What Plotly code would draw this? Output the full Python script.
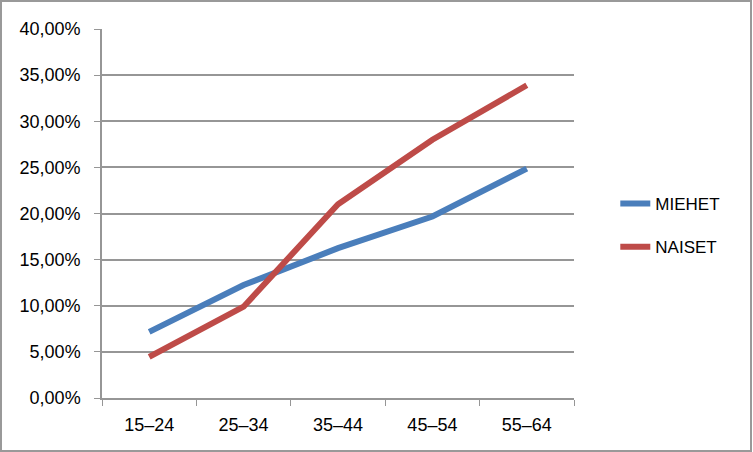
import plotly.graph_objects as go

categories = ["15–24", "25–34", "35–44", "45–54", "55–64"]
miehet = [0.0717, 0.1225, 0.1624, 0.1967, 0.2486]
naiset = [0.0446, 0.0990, 0.2100, 0.2800, 0.3390]
y_ticks = [0, 0.05, 0.10, 0.15, 0.20, 0.25, 0.30, 0.35, 0.40]
y_tick_labels = ["0,00%", "5,00%", "10,00%", "15,00%", "20,00%", "25,00%", "30,00%", "35,00%", "40,00%"]

W, H = 753, 452
ml, mr, mt, mb = 102, 179, 29, 54
pw, ph = W - ml - mr, H - mt - mb

fig = go.Figure()
fig.add_trace(go.Scatter(x=categories, y=miehet, mode="lines", name="MIEHET",
                         line=dict(color="#4A7EBB", width=6), legendgroup="a"))
fig.add_trace(go.Scatter(x=categories, y=naiset, mode="lines", name="NAISET",
                         line=dict(color="#BE4B48", width=6), legendgroup="b"))

axis_col = "#969696"
fig.update_layout(
    width=W, height=H,
    margin=dict(l=ml, r=mr, t=mt, b=mb),
    paper_bgcolor="white", plot_bgcolor="white",
    font=dict(family="Liberation Sans, Arial, sans-serif", size=18, color="black"),
    xaxis=dict(type="category", tickson="boundaries", ticks="outside", ticklen=6,
               tickcolor=axis_col, showline=True, linecolor=axis_col, linewidth=1.5,
               showgrid=False, range=[-0.5, 4.5], tickfont=dict(size=18),
               ticklabelstandoff=10),
    yaxis=dict(range=[0, 0.40], tickvals=y_ticks, ticktext=y_tick_labels,
               ticks="outside", ticklen=6, tickcolor=axis_col,
               showline=True, linecolor=axis_col, linewidth=1.5,
               showgrid=True, gridcolor=axis_col, gridwidth=1.5,
               zeroline=False, tickfont=dict(size=18), ticklabelstandoff=10),
    legend=dict(x=1.0875, y=0.4675, xanchor="left", yanchor="middle",
                traceorder="grouped", tracegroupgap=18,
                font=dict(size=17), bgcolor="rgba(0,0,0,0)"),
    shapes=[dict(type="rect", xref="paper", yref="paper",
                 x0=(1 - ml) / pw, x1=(751 - ml) / pw,
                 y0=1 - (451 - mt) / ph, y1=1 - (1 - mt) / ph,
                 line=dict(color="#999999", width=2), layer="below")],
)

fig.write_html("out.html", config={"displayModeBar": False},
               post_script="document.body.style.margin='0';")
